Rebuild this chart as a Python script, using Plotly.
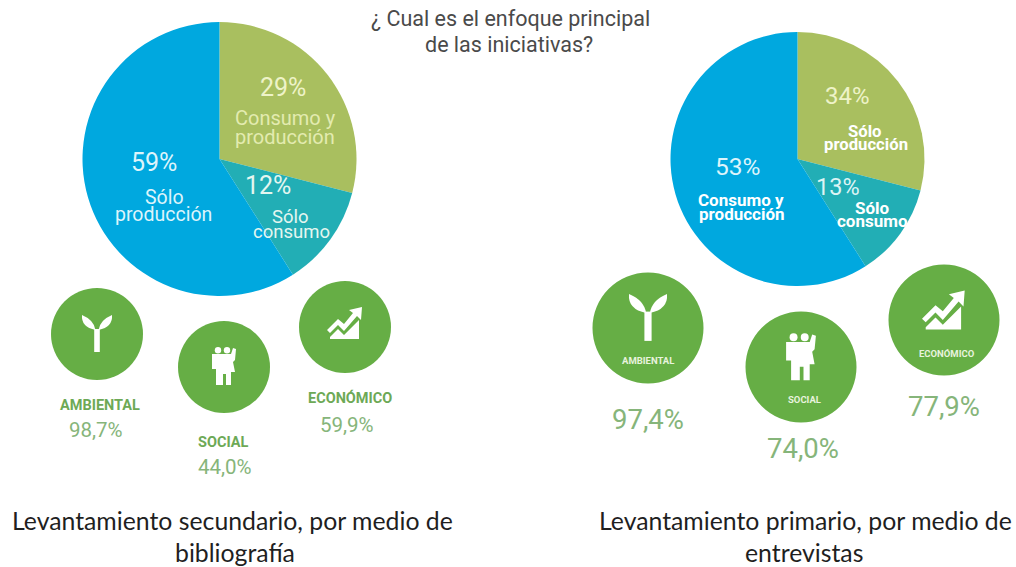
import plotly.graph_objects as go

W, H = 1016, 567

# Drawn slice shares (the right pie is drawn with the same angles as the left
# one in the reference, although its printed labels say 34/13/53).
slice_names = ["Verde", "Turquesa", "Azul"]
left_shares = [29, 12, 59]
right_shares = [29, 12, 59]
slice_colors = ["#A9BF5F", "#22AEB5", "#00A8DF"]

left_pct = ["29%", "12%", "59%"]
left_names = [["Consumo y", "producción"], ["Sólo", "consumo"], ["Sólo", "producción"]]
right_pct = ["34%", "13%", "53%"]
right_names = [["Sólo", "producción"], ["Sólo", "consumo"], ["Consumo y", "producción"]]

left_scores = ["98,7%", "44,0%", "59,9%"]
right_scores = ["97,4%", "74,0%", "77,9%"]
dimensions = ["AMBIENTAL", "SOCIAL", "ECONÓMICO"]

title = ["¿ Cual es el enfoque principal", "de las iniciativas?"]
caption_left = ["Levantamiento secundario, por medio de", "bibliografía"]
caption_right = ["Levantamiento primario, por medio de", "entrevistas"]

GREEN = "#66AE45"
LABEL = "#6DA956"
SCORE = "#86B57A"


def dom(cx, cy, r):
    return dict(x=[(cx - r) / W, (cx + r) / W], y=[1 - (cy + r) / H, 1 - (cy - r) / H])


fig = go.Figure()
for shares, d, nm in [(left_shares, dom(219.5, 159, 137), "sec"), (right_shares, dom(797.5, 159, 127), "pri")]:
    fig.add_trace(go.Pie(values=shares, labels=slice_names, marker=dict(colors=slice_colors, line=dict(width=0)),
                         sort=False, direction="clockwise", rotation=0, textinfo="none",
                         hoverinfo="skip", showlegend=False, domain=d, name=nm))

shapes, ann = [], []


def text(x, y, s, size, color, font="Roboto", weight=None):
    ann.append(dict(x=x, y=y, xref="x", yref="y", text=s, showarrow=False, xanchor="center", yanchor="middle",
                    font=dict(family=font, size=size, color=color, weight=weight), align="center"))


def path(d, fill="white"):
    shapes.append(dict(type="path", xref="x", yref="y", path=d, fillcolor=fill, layer="above", line=dict(width=0)))


def P(cx, cy, s, pts):
    out = ""
    for i, (a, b) in enumerate(pts):
        out += ("M" if i == 0 else "L") + f"{cx + a * s:.1f},{cy + b * s:.1f} "
    return out + "Z"


def circle(cx, cy, r, fill=GREEN):
    shapes.append(dict(type="circle", xref="x", yref="y", x0=cx - r, x1=cx + r, y0=cy - r, y1=cy + r,
                       fillcolor=fill, line=dict(width=0), layer="above"))


def sprout(cx, cy, s):
    path(P(cx, cy, s, [(-2.8, -5), (2.8, -5), (2.8, 18), (-2.8, 18)]))
    path(f"M{cx-1.5*s:.1f},{cy-4*s:.1f} Q{cx-3*s:.1f},{cy-14*s:.1f} {cx-15*s:.1f},{cy-19*s:.1f} "
         f"Q{cx-16*s:.1f},{cy-7*s:.1f} {cx-1.5*s:.1f},{cy-4*s:.1f} Z")
    path(f"M{cx+1.5*s:.1f},{cy-4*s:.1f} Q{cx+3*s:.1f},{cy-14*s:.1f} {cx+15*s:.1f},{cy-19*s:.1f} "
         f"Q{cx+16*s:.1f},{cy-7*s:.1f} {cx+1.5*s:.1f},{cy-4*s:.1f} Z")


def people(cx, cy, s):
    for dx in (-6, 3):
        circle(cx + dx * s, cy - 16.8 * s, 3.2 * s, "white")
    path(P(cx, cy, s, [(-12, -13), (7, -13), (9, -19), (12, -18), (11, -7), (9, -5), (11, 5), (7, 5), (7, 18),
                       (2, 18), (2, 7), (-1, 7), (-1, 18), (-8, 18), (-8, 2), (-12, 2)]))


def growth(cx, cy, s):
    path(P(cx, cy, s, [(-15, 12), (14, 12), (14, -7), (-1, 8), (-7, 2), (-15, 10)]))
    path(P(cx, cy, s, [(-18, 3), (-7, -8), (-1, -3), (8, -14), (4, -17), (17, -20), (16, -7), (12, -11),
                       (-1, 4), (-7, -2), (-15, 6)]))


# Left group
for (cx, cy), icon, scale in zip([(97, 334), (224, 367), (345, 327)], [sprout, people, growth], [1.0, 1.0, 1.0]):
    circle(cx, cy, 46)
    icon(cx, cy, scale)

# Right group
for (cx, cy), icon, scale, oy in zip([(648, 328), (801, 367), (944, 320)], [sprout, people, growth],
                                     [1.27, 1.24, 1.22], [-10, -9, -5]):
    circle(cx, cy, 55.5)
    icon(cx, cy + oy, scale)

C = "Roboto"
for x, y, s in [(510, 18, title[0]), (509, 44, title[1])]:
    text(x, y, s, 21.5, "#4A4A4A")

# Left pie text
text(283, 87, left_pct[0], 25, "#EEF3C8")
text(285, 118, left_names[0][0], 20, "#E3EBB0")
text(285, 137, left_names[0][1], 20, "#E3EBB0")
text(268, 185, left_pct[1], 25, "#E4F6F0")
text(290, 217, left_names[1][0], 18.5, "#E4F6F0")
text(291, 232, left_names[1][1], 18.5, "#E4F6F0")
text(154, 162, left_pct[2], 25, "#DDF4FB")
text(164, 197, left_names[2][0], 19.5, "#DDF4FB")
text(163, 214, left_names[2][1], 19.5, "#DDF4FB")

# Right pie text
text(847, 96, right_pct[0], 24, "#EEF3C8")
text(865, 131, right_names[0][0], 16.7, "#FFFFFF", C, 700)
text(866, 144, right_names[0][1], 16.7, "#FFFFFF", C, 700)
text(838, 187, right_pct[1], 23.5, "#DDF4F4")
text(872, 208, right_names[1][0], 17, "#FFFFFF", C, 700)
text(872, 221, right_names[1][1], 17, "#FFFFFF", C, 700)
text(737, 166, right_pct[2], 24.5, "#DDF4FB")
text(741, 200, right_names[2][0], 17, "#FFFFFF", C, 700)
text(742, 214, right_names[2][1], 17, "#FFFFFF", C, 700)

# Left labels
text(100, 405, dimensions[0], 14.5, LABEL, C, 700)
text(96, 430, left_scores[0], 20.5, SCORE)
text(223, 442, dimensions[1], 14.5, LABEL, C, 700)
text(225, 467, left_scores[1], 20.5, SCORE)
text(350, 398, dimensions[2], 14.5, LABEL, C, 700)
text(347, 425, left_scores[2], 20.5, SCORE)

# Right labels (inside circles + scores)
text(648, 360, dimensions[0], 9.5, "#E8F3DE", C, 700)
text(648, 419, right_scores[0], 27.5, SCORE)
text(804, 399, dimensions[1], 9.5, "#E8F3DE", C, 700)
text(803, 448, right_scores[1], 27.5, SCORE)
text(947, 353, dimensions[2], 9.5, "#E8F3DE", C, 700)
text(944, 406, right_scores[2], 27.5, SCORE)

# Captions
text(232, 520, caption_left[0], 24.8, "#1F1F1F", "Lato")
text(235, 552, caption_left[1], 24.8, "#1F1F1F", "Lato")
text(805, 520, caption_right[0], 24.8, "#1F1F1F", "Lato")
text(804, 552, caption_right[1], 24.8, "#1F1F1F", "Lato")

axis = dict(visible=False, fixedrange=True)
fig.update_layout(width=W, height=H, margin=dict(l=0, r=0, t=0, b=0), autosize=False,
                  paper_bgcolor="white", plot_bgcolor="rgba(0,0,0,0)", showlegend=False,
                  xaxis=dict(range=[0, W], domain=[0, 1], **axis),
                  yaxis=dict(range=[H, 0], domain=[0, 1], **axis),
                  shapes=shapes, annotations=ann)
fig.add_trace(go.Scatter(x=[0, W], y=[0, H], mode="markers", marker=dict(opacity=0), hoverinfo="skip", showlegend=False))
fig.write_html("out.html", config=dict(displayModeBar=False),
               post_script="document.body.style.margin='0';document.documentElement.style.overflow='hidden';")
